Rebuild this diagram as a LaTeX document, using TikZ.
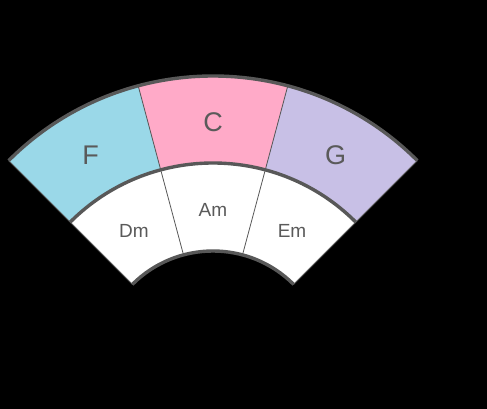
\documentclass[tikz,border=0pt]{standalone}
\usepackage{fontspec}
\setmainfont{Liberation Sans}
\usetikzlibrary{positioning}
\definecolor{cF}{RGB}{154,216,232}
\definecolor{cC}{RGB}{255,170,200}
\definecolor{cG}{RGB}{200,192,230}
\definecolor{cEdge}{RGB}{88,88,88}
\definecolor{cText}{RGB}{90,90,90}
\tikzset{
  ring/.style={draw=cEdge, line width=3.4pt},
  divider/.style={draw=cEdge, line width=0.8pt},
  major/.style={font=\fontsize{27}{27}\selectfont, text=cText, yshift=-2.5pt},
  minor/.style={font=\fontsize{19}{19}\selectfont, text=cText, yshift=-2.5pt},
}
\begin{document}
\begin{tikzpicture}[x=1pt,y=1pt]
\useasboundingbox[fill=black] (-213,-44) rectangle (274,365);
% outer ring: major chords
\foreach \a/\col in {135/cF, 105/cC, 75/cG}{
  \fill[\col] (\a:202) arc[start angle=\a, end angle=\a-30, radius=202]
    -- (\a-30:289) arc[start angle=\a-30, end angle=\a, radius=289] -- cycle;
}
% inner ring: relative minors
\fill[white] (135:114) arc[start angle=135, end angle=45, radius=114]
  -- (45:202) arc[start angle=45, end angle=135, radius=202] -- cycle;
% dividers
\foreach \a in {135,105,75,45}{
  \draw[divider] (\a:114) -- (\a:289);
}
% rings
\draw[ring] (135:289) arc[start angle=135, end angle=45, radius=289];
\draw[ring] (135:202) arc[start angle=135, end angle=45, radius=202];
\draw[ring] (135:114) arc[start angle=135, end angle=45, radius=114];
% labels
\node[major] (F) at (120:245) {F};
\node[major] (C) at (90:245) {C};
\node[major] (G) at (60:245) {G};
\node[minor] (Dm) at (120:158) {Dm};
\node[minor] (Am) at (90:158) {Am};
\node[minor] (Em) at (60:158) {Em};
\end{tikzpicture}
\end{document}
